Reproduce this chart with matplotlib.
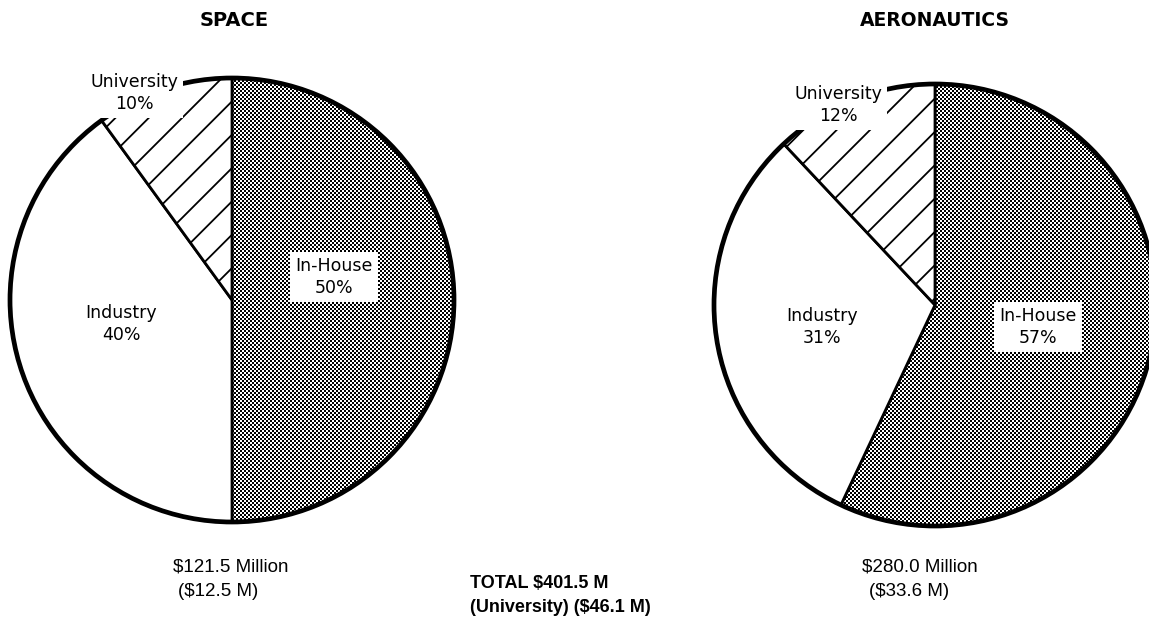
import numpy as np
import matplotlib.pyplot as plt
from matplotlib.patches import Circle

plt.rcParams['font.family'] = ['DejaVu Sans']
plt.rcParams['hatch.linewidth'] = 1.3

# data
categories = ['In-House', 'Industry', 'University']
space_pct = [50, 40, 10]
aero_pct = [57, 31, 12]
space_total = '$121.5 Million'
space_univ = '($12.5 M)'
aero_total = '$280.0 Million'
aero_univ = '($33.6 M)'
grand_total = 'TOTAL $401.5 M'
grand_univ = '(University) ($46.1 M)'

W, H = 1149, 628
fig = plt.figure(figsize=(W / 100, H / 100), dpi=100)
fig.patch.set_facecolor('white')
ax = fig.add_axes([0, 0, 1, 1])

# fine checker texture for the in-house wedge
checker = (np.indices((H // 2 + 1, W // 2 + 1)).sum(axis=0) % 2).repeat(2, 0).repeat(2, 1)[:H, :W]


def draw_pie(vals, cx, cy, r):
    wedges, _ = ax.pie(vals, center=(cx, cy), radius=r, startangle=90,
                       counterclock=False,
                       wedgeprops=dict(edgecolor='black', linewidth=2))
    wedges[0].set_facecolor('none')
    wedges[1].set_facecolor('white')
    wedges[2].set_facecolor('white')
    wedges[2].set_hatch('/')
    im = ax.imshow(checker, cmap='gray', vmin=0, vmax=1, extent=(0, W, 0, H),
                   origin='lower', interpolation='nearest', zorder=0.5)
    im.set_clip_path(wedges[0])
    ax.add_patch(Circle((cx, cy), r, fill=False, lw=3.4, ec='black', zorder=3))


draw_pie(space_pct, 232, 328, 222)
draw_pie(aero_pct, 935, 323, 221)

ax.set_xlim(0, W)
ax.set_ylim(0, H)
ax.set_aspect('equal')
ax.axis('off')

box = dict(facecolor='white', edgecolor='none', pad=4)
lab = dict(fontsize=12.5, ha='center', va='center', linespacing=1.25, zorder=5)


def y(v):
    return H - v


# space labels
ax.text(234, y(20), 'SPACE', fontsize=14, fontweight='bold', ha='center', va='center')
ax.text(334, y(277), f'{categories[0]}\n{space_pct[0]}%', bbox=box, **lab)
ax.text(121, y(324), f'{categories[1]}\n{space_pct[1]}%', **lab)
ax.text(134, y(93), f'{categories[2]}\n{space_pct[2]}%', bbox=box, **lab)

# aeronautics labels
ax.text(935, y(20), 'AERONAUTICS', fontsize=13.5, fontweight='bold', ha='center', va='center')
ax.text(1038, y(327), f'{categories[0]}\n{aero_pct[0]}%', bbox=box, **lab)
ax.text(822, y(327), f'{categories[1]}\n{aero_pct[1]}%', **lab)
ax.text(838, y(105), f'{categories[2]}\n{aero_pct[2]}%', bbox=box, **lab)

# totals
tot = dict(fontsize=13.5, family='Liberation Sans', ha='left', va='center')
ax.text(173, y(567), space_total, **tot)
ax.text(178, y(591), space_univ, **tot)
ax.text(862, y(567), aero_total, **tot)
ax.text(869, y(591), aero_univ, **tot)
tot_b = dict(fontsize=13, family='Liberation Sans', fontweight='bold', ha='left', va='center')
ax.text(470, y(583), grand_total, **tot_b)
ax.text(470, y(607), grand_univ, **tot_b)

fig.savefig('out.png', dpi=100)
